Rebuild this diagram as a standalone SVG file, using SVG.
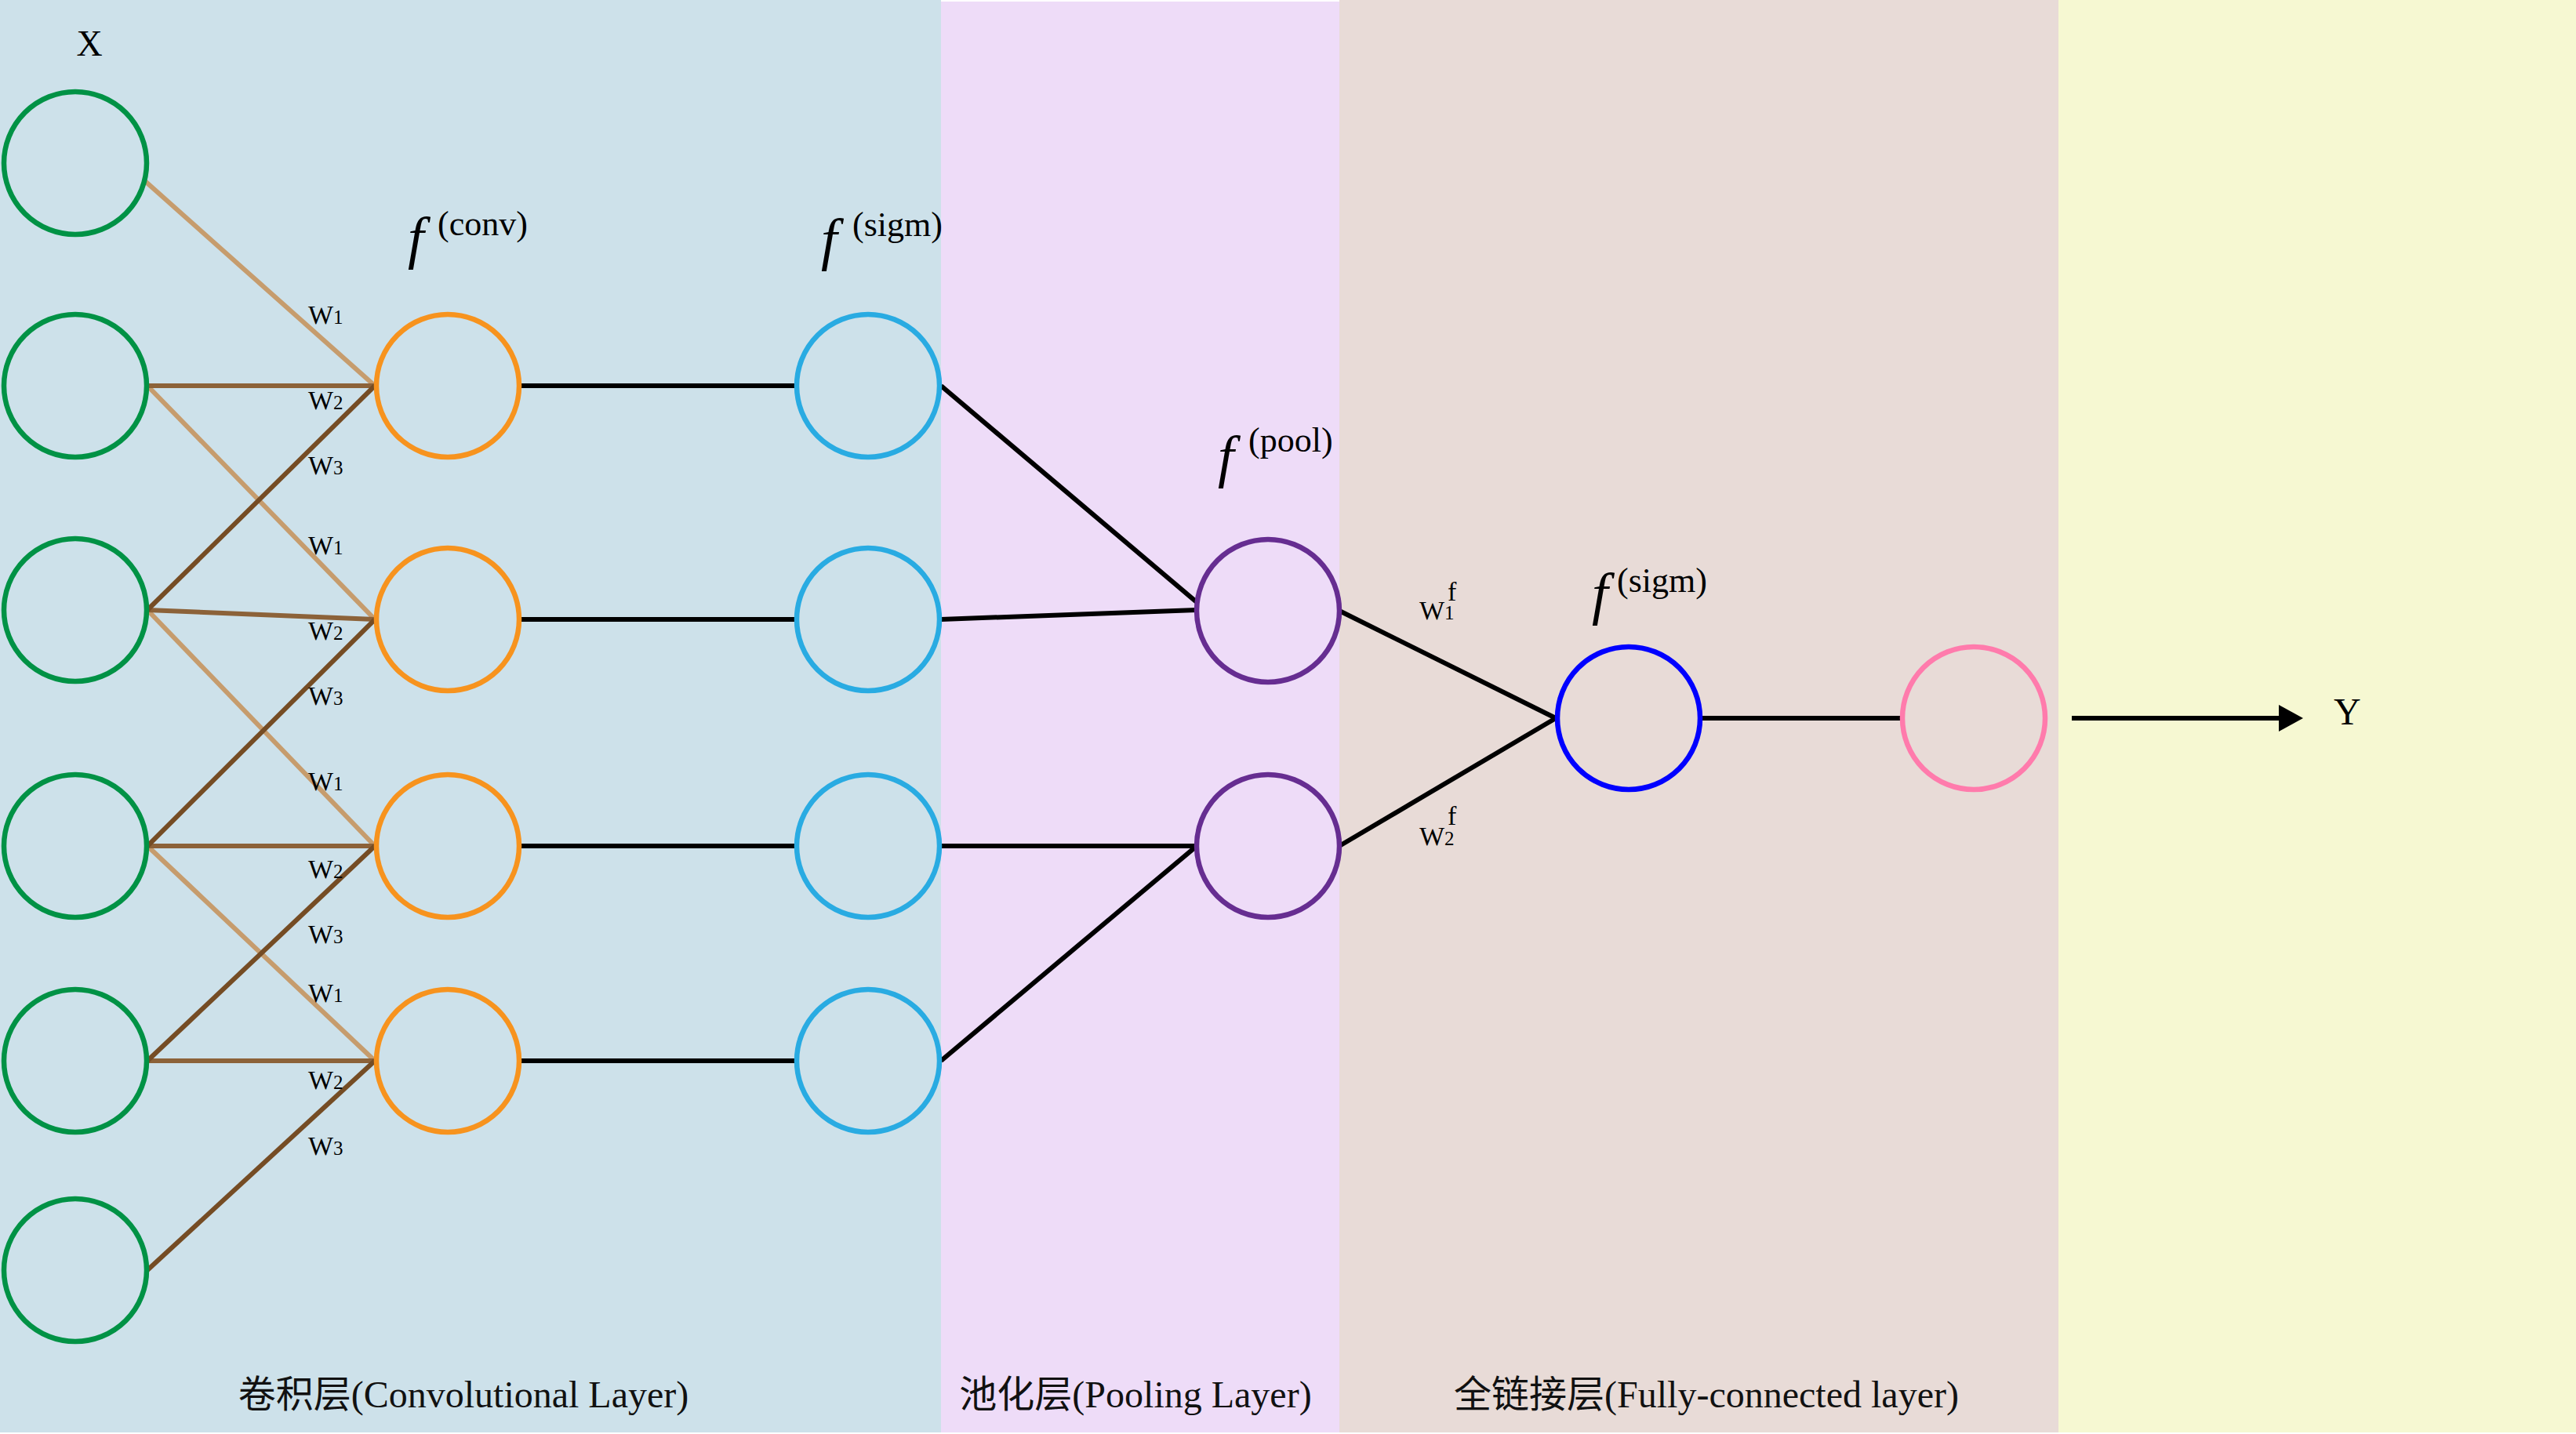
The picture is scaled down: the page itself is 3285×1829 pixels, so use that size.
<svg xmlns="http://www.w3.org/2000/svg" width="3285" height="1829" viewBox="0 0 3285 1829">
<style>
.node{fill:none;stroke-width:6.5}
.g{stroke:#009245}.o{stroke:#F7931E}.b{stroke:#29ABE2}.p{stroke:#662D91}.bb{stroke:#0000FF}.pk{stroke:#FF7BAC}
.w1{stroke:#C69C6D;stroke-width:6}.w2{stroke:#8C6239;stroke-width:6}.w3{stroke:#754C24;stroke-width:6}
.k{stroke:#000;stroke-width:6;fill:none}
.t{font-family:"Liberation Serif","Times New Roman",serif;fill:#000}
.title{font-family:"Liberation Serif","Noto Sans CJK SC",serif;font-size:48px;fill:#111;text-anchor:middle}
.wl{font-family:"Liberation Serif",serif;font-size:34px;fill:#000}
.fi{font-family:"Liberation Serif",serif;font-style:italic;font-size:74px;fill:#000}
.sup{font-family:"Liberation Serif",serif;font-size:44px;fill:#000}
</style>
<defs>
<marker id="arrow" markerUnits="userSpaceOnUse" markerWidth="32" markerHeight="36" refX="0" refY="17" orient="auto">
<path d="M0,0 L31,17 L0,34 Z" fill="#000"/>
</marker>
</defs>
<g id="backgrounds">
<rect x="0" y="0" width="1200" height="1827" fill="#CDE1EA"/>
<rect x="1200" y="2" width="508" height="1825" fill="#EEDCF8"/>
<rect x="1708" y="0" width="917" height="1827" fill="#E8DBD7"/>
<rect x="2625" y="0" width="660" height="1827" fill="#F6F8D2"/>
</g>
<g id="connectors">
<line class="w1" x1="185" y1="231" x2="478" y2="492"/>
<line class="w1" x1="188" y1="492" x2="478" y2="790"/>
<line class="w1" x1="188" y1="778" x2="478" y2="1079"/>
<line class="w1" x1="188" y1="1079" x2="478" y2="1353"/>
<line class="w2" x1="188" y1="492" x2="478" y2="492"/>
<line class="w2" x1="188" y1="778" x2="478" y2="790"/>
<line class="w2" x1="188" y1="1079" x2="478" y2="1079"/>
<line class="w2" x1="188" y1="1353" x2="478" y2="1353"/>
<line class="w3" x1="188" y1="778" x2="478" y2="492"/>
<line class="w3" x1="188" y1="1079" x2="478" y2="790"/>
<line class="w3" x1="188" y1="1353" x2="478" y2="1079"/>
<line class="w3" x1="188" y1="1620" x2="478" y2="1353"/>
<line class="k" x1="665" y1="492" x2="1014" y2="492"/>
<line class="k" x1="665" y1="790" x2="1014" y2="790"/>
<line class="k" x1="665" y1="1079" x2="1014" y2="1079"/>
<line class="k" x1="665" y1="1353" x2="1014" y2="1353"/>
<line class="k" x1="1200" y1="492" x2="1526" y2="768"/>
<line class="k" x1="1200" y1="790" x2="1526" y2="778"/>
<line class="k" x1="1200" y1="1079" x2="1526" y2="1079"/>
<line class="k" x1="1200" y1="1353" x2="1526" y2="1079"/>
<line class="k" x1="1708" y1="779" x2="1984" y2="916"/>
<line class="k" x1="1708" y1="1079" x2="1984" y2="916"/>
<line class="k" x1="2169" y1="916" x2="2424" y2="916"/>
<line class="k" x1="2642" y1="916" x2="2906" y2="916" marker-end="url(#arrow)"/>
</g>
<g id="input">
<g id="x1"><circle class="node g" cx="96" cy="208" r="91"/></g>
<g id="x2"><circle class="node g" cx="96" cy="492" r="91"/></g>
<g id="x3"><circle class="node g" cx="96" cy="778" r="91"/></g>
<g id="x4"><circle class="node g" cx="96" cy="1079" r="91"/></g>
<g id="x5"><circle class="node g" cx="96" cy="1353" r="91"/></g>
<g id="x6"><circle class="node g" cx="96" cy="1620" r="91"/></g>
</g>
<g id="conv">
<g id="c1"><circle class="node o" cx="571" cy="492" r="91"/></g>
<g id="c2"><circle class="node o" cx="571" cy="790" r="91"/></g>
<g id="c3"><circle class="node o" cx="571" cy="1079" r="91"/></g>
<g id="c4"><circle class="node o" cx="571" cy="1353" r="91"/></g>
</g>
<g id="sigm">
<g id="s1"><circle class="node b" cx="1107" cy="492" r="91"/></g>
<g id="s2"><circle class="node b" cx="1107" cy="790" r="91"/></g>
<g id="s3"><circle class="node b" cx="1107" cy="1079" r="91"/></g>
<g id="s4"><circle class="node b" cx="1107" cy="1353" r="91"/></g>
</g>
<g id="pool">
<g id="p1"><circle class="node p" cx="1617" cy="779" r="91"/></g>
<g id="p2"><circle class="node p" cx="1617" cy="1079" r="91"/></g>
</g>
<g id="fc"><circle class="node bb" cx="2077" cy="916" r="91"/></g>
<g id="out"><circle class="node pk" cx="2517" cy="916" r="91"/></g>
<g id="labels">
<text class="t" x="114" y="71" font-size="46" text-anchor="middle">X</text>
<text class="t" x="2976" y="924" font-size="48">Y</text>
<text class="wl" x="393" y="413">W<tspan font-size="25">1</tspan></text>
<text class="wl" x="393" y="522">W<tspan font-size="25">2</tspan></text>
<text class="wl" x="393" y="605">W<tspan font-size="25">3</tspan></text>
<text class="wl" x="393" y="707">W<tspan font-size="25">1</tspan></text>
<text class="wl" x="393" y="816">W<tspan font-size="25">2</tspan></text>
<text class="wl" x="393" y="899">W<tspan font-size="25">3</tspan></text>
<text class="wl" x="393" y="1008">W<tspan font-size="25">1</tspan></text>
<text class="wl" x="393" y="1120">W<tspan font-size="25">2</tspan></text>
<text class="wl" x="393" y="1203">W<tspan font-size="25">3</tspan></text>
<text class="wl" x="393" y="1278">W<tspan font-size="25">1</tspan></text>
<text class="wl" x="393" y="1389">W<tspan font-size="25">2</tspan></text>
<text class="wl" x="393" y="1473">W<tspan font-size="25">3</tspan></text>
<text class="wl" x="1810" y="790">W<tspan font-size="25">1</tspan></text>
<text class="wl" x="1846" y="766" font-size="22">f</text>
<text class="wl" x="1810" y="1078">W<tspan font-size="25">2</tspan></text>
<text class="wl" x="1846" y="1052" font-size="22">f</text>
<text class="fi" x="520" y="328">f</text><text class="sup" x="558" y="300">(conv)</text>
<text class="fi" x="1047" y="330">f</text><text class="sup" x="1087" y="301">(sigm)</text>
<text class="fi" x="1553" y="607">f</text><text class="sup" x="1592" y="576">(pool)</text>
<text class="fi" x="2030" y="782">f</text><text class="sup" x="2062" y="755">(sigm)</text>
<text class="title" x="591" y="1795">卷积层(Convolutional Layer)</text>
<text class="title" x="1448" y="1795">池化层(Pooling Layer)</text>
<text class="title" x="2176" y="1795">全链接层(Fully-connected layer)</text>
</g>
</svg>
